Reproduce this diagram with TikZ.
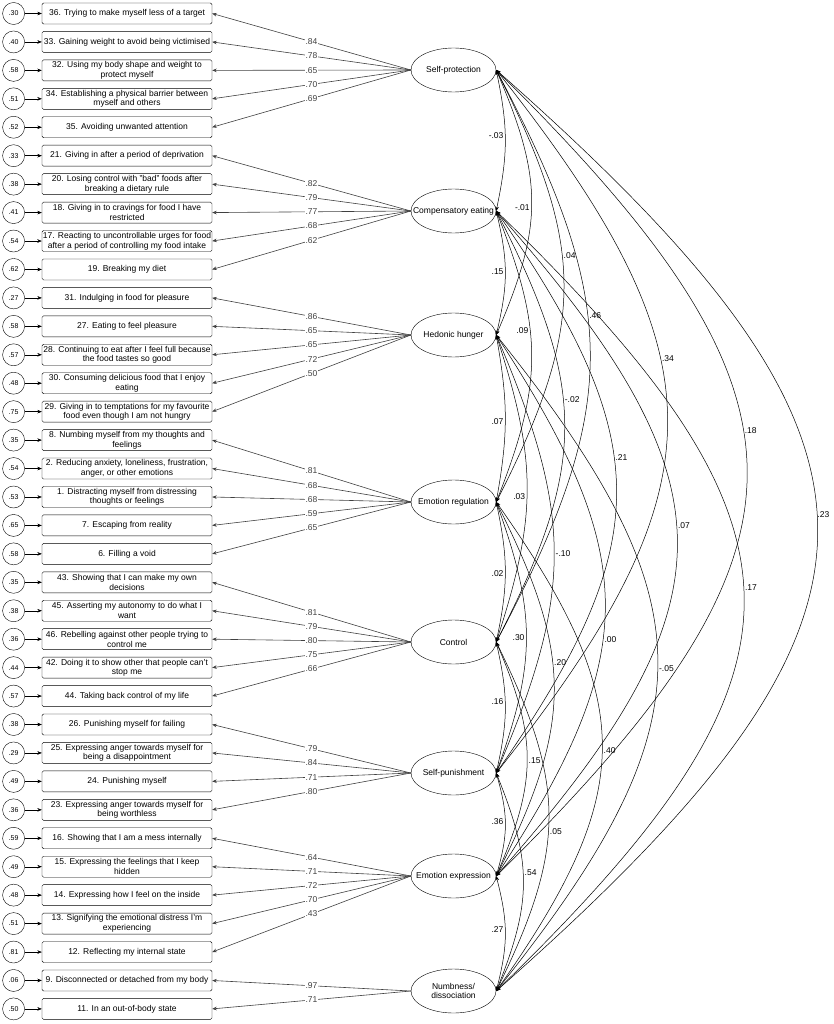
\documentclass[tikz,border=0pt]{standalone}
\usepackage{fontspec}
\setmainfont{Liberation Sans}
\usetikzlibrary{arrows.meta,positioning,shapes.geometric}

\begin{document}
\begin{tikzpicture}[
  x=1pt,y=1pt,
  >={Stealth[length=4.5pt,width=3.6pt]},
  every node/.style={font=\fontsize{8.5}{9.6}\selectfont},
  item/.style={draw,rounded corners=1.5pt,minimum width=170pt,minimum height=21pt,inner sep=1pt,align=center},
  err/.style={draw,circle,minimum size=22pt,inner sep=0pt,font=\fontsize{7}{8}\selectfont},
  factor/.style={draw,ellipse,minimum width=85pt,minimum height=44pt,inner sep=0pt},
  load/.style={->,black!75,line width=0.6pt},
  cov/.style={<->,line width=0.5pt},
  wt/.style={fill=white,inner sep=0.6pt},
  lbl/.style={inner sep=1.5pt}
]
  \useasboundingbox (0,0) rectangle (833,-1024);

  \node[factor,label=center:Self-protection] (sp) at (453.5,-70) {};
  \node[factor,label=center:Compensatory eating] (ce) at (453.5,-211) {};
  \node[factor,label=center:Hedonic hunger] (hh) at (453.5,-335) {};
  \node[factor,label=center:Emotion regulation] (er) at (453.5,-502) {};
  \node[factor,label=center:Control] (con) at (453.5,-642) {};
  \node[factor,label=center:Self-punishment] (spun) at (453.5,-773) {};
  \node[factor,label=center:Emotion expression] (ee) at (453.5,-876) {};
  \node[factor,label={[align=center]center:Numbness/\\dissociation}] (numb) at (453.5,-991) {};

  \foreach \fac/\ev/\ld/\txt [count=\k] in {
    sp/.30/.84/{36. Trying to make myself less of a target},
    sp/.40/.78/{33. Gaining weight to avoid being victimised},
    sp/.58/.65/{32. Using my body shape and weight to\\protect myself},
    sp/.51/.70/{34. Establishing a physical barrier between\\myself and others},
    sp/.52/.69/{35. Avoiding unwanted attention},
    ce/.33/.82/{21. Giving in after a period of deprivation},
    ce/.38/.79/{20. Losing control with "bad" foods after\\breaking a dietary rule},
    ce/.41/.77/{18. Giving in to cravings for food I have\\restricted},
    ce/.54/.68/{17. Reacting to uncontrollable urges for food\\after a period of controlling my food intake},
    ce/.62/.62/{19. Breaking my diet},
    hh/.27/.86/{31. Indulging in food for pleasure},
    hh/.58/.65/{27. Eating to feel pleasure},
    hh/.57/.65/{28. Continuing to eat after I feel full because\\the food tastes so good},
    hh/.48/.72/{30. Consuming delicious food that I enjoy\\eating},
    hh/.75/.50/{29. Giving in to temptations for my favourite\\food even though I am not hungry},
    er/.35/.81/{8. Numbing myself from my thoughts and\\feelings},
    er/.54/.68/{2. Reducing anxiety, loneliness, frustration,\\anger, or other emotions},
    er/.53/.68/{1. Distracting myself from distressing\\thoughts or feelings},
    er/.65/.59/{7. Escaping from reality},
    er/.58/.65/{6. Filling a void},
    con/.35/.81/{43. Showing that I can make my own\\decisions},
    con/.38/.79/{45. Asserting my autonomy to do what I\\want},
    con/.36/.80/{46. Rebelling against other people trying to\\control me},
    con/.44/.75/{42. Doing it to show other that people can't\\stop me},
    con/.57/.66/{44. Taking back control of my life},
    spun/.38/.79/{26. Punishing myself for failing},
    spun/.29/.84/{25. Expressing anger towards myself for\\being a disappointment},
    spun/.49/.71/{24. Punishing myself},
    spun/.36/.80/{23. Expressing anger towards myself for\\being worthless},
    ee/.59/.64/{16. Showing that I am a mess internally},
    ee/.49/.71/{15. Expressing the feelings that I keep\\hidden},
    ee/.48/.72/{14. Expressing how I feel on the inside},
    ee/.51/.70/{13. Signifying the emotional distress I'm\\experiencing},
    ee/.81/.43/{12. Reflecting my internal state},
    numb/.06/.97/{9. Disconnected or detached from my body},
    numb/.50/.71/{11. In an out-of-body state}%
  }{
    \node[item] (i\k) at (127,{-13.5-28.44*(\k-1)}) {\txt};
    \node[err,left=17pt of i\k] (e\k) {\ev};
    \draw[->] (e\k) -- (i\k);
    \draw[load] (\fac.west) -- node[wt] {\ld} (i\k.east);
  }

  \draw[cov] (sp.east) .. controls +(12,-58) and +(12,58) .. node[lbl,pos=.46,left] {-.03} (ce.east);
  \draw[cov] (sp.east) .. controls +(47,-109) and +(47,109) .. node[lbl,pos=.52,left] {-.01} (hh.east);
  \draw[cov] (sp.east) .. controls +(90,-177) and +(90,177) .. node[lbl,pos=.42,right] {.04} (er.east);
  \draw[cov] (sp.east) .. controls +(125,-235) and +(125,235) .. node[lbl,pos=.42,right] {.46} (con.east);
  \draw[cov] (sp.east) .. controls +(228,-288) and +(228,288) .. node[lbl,pos=.40,right] {.34} (spun.east);
  \draw[cov] (sp.east) .. controls +(334,-330) and +(334,330) .. node[lbl,pos=.44,right] {.18} (ee.east);
  \draw[cov] (sp.east) .. controls +(428,-378) and +(428,378) .. node[lbl,pos=.48,right,inner sep=0.5pt] {.23} (numb.east);

  \draw[cov] (ce.east) .. controls +(12,-51) and +(12,51) .. node[lbl,pos=.49,left] {.15} (hh.east);
  \draw[cov] (ce.east) .. controls +(47,-119) and +(47,119) .. node[lbl,pos=.40,left] {.09} (er.east);
  \draw[cov] (ce.east) .. controls +(91,-177) and +(91,177) .. node[lbl,pos=.43,right] {-.02} (con.east);
  \draw[cov] (ce.east) .. controls +(160,-230) and +(160,230) .. node[lbl,pos=.43,right] {.21} (spun.east);
  \draw[cov] (ce.east) .. controls +(241,-273) and +(241,273) .. node[lbl,pos=.47,right] {.07} (ee.east);
  \draw[cov] (ce.east) .. controls +(330,-320) and +(330,320) .. node[lbl,pos=.48,right] {.17} (numb.east);

  \draw[cov] (hh.east) .. controls +(12,-68) and +(12,68) .. node[lbl,pos=.52,left] {.07} (er.east);
  \draw[cov] (hh.east) .. controls +(41,-126) and +(41,126) .. node[lbl,pos=.53,left] {.03} (con.east);
  \draw[cov] (hh.east) .. controls +(77,-180) and +(77,180) .. node[lbl,pos=.50,right] {-.10} (spun.east);
  \draw[cov] (hh.east) .. controls +(145,-222) and +(145,222) .. node[lbl,pos=.57,right] {.00} (ee.east);
  \draw[cov] (hh.east) .. controls +(215,-269) and +(215,269) .. node[lbl,pos=.51,right] {-.05} (numb.east);

  \draw[cov] (er.east) .. controls +(12,-57) and +(12,57) .. node[lbl,pos=.51,left] {.02} (con.east);
  \draw[cov] (er.east) .. controls +(40,-111) and +(40,111) .. node[lbl,pos=.50,left] {.30} (spun.east);
  \draw[cov] (er.east) .. controls +(77,-153) and +(77,153) .. node[lbl,pos=.42,right] {.20} (ee.east);
  \draw[cov] (er.east) .. controls +(141,-200) and +(141,200) .. node[lbl,pos=.51,right] {.40} (numb.east);

  \draw[cov] (con.east) .. controls +(12,-54) and +(12,54) .. node[lbl,pos=.45,left] {.16} (spun.east);
  \draw[cov] (con.east) .. controls +(41,-96) and +(41,96) .. node[lbl,pos=.51,right] {.15} (ee.east);
  \draw[cov] (con.east) .. controls +(70,-143) and +(70,143) .. node[lbl,pos=.55,right] {.05} (numb.east);

  \draw[cov] (spun.east) .. controls +(12,-42) and +(12,42) .. node[lbl,pos=.47,left] {.36} (ee.east);
  \draw[cov] (spun.east) .. controls +(36,-89) and +(36,89) .. node[lbl,pos=.45,right] {.54} (numb.east);

  \draw[cov] (ee.east) .. controls +(12,-47) and +(12,47) .. node[lbl,pos=.46,left] {.27} (numb.east);
\end{tikzpicture}
\end{document}
